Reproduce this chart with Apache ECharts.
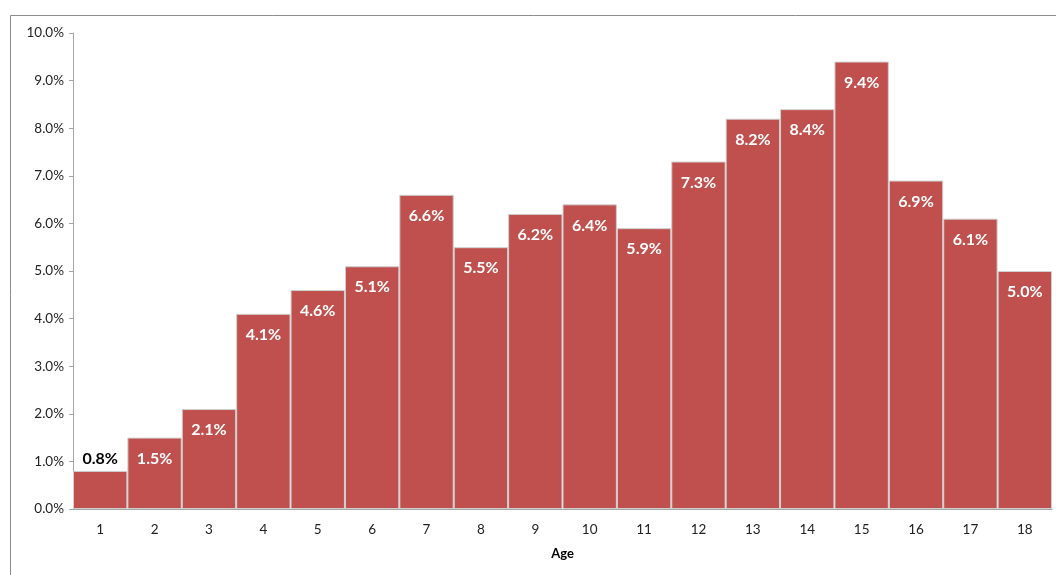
<!DOCTYPE html>
<html>
<head>
<meta charset="utf-8">
<script src="https://cdn.jsdelivr.net/npm/echarts@6/dist/echarts.min.js"></script>
<style>
  html, body { margin: 0; padding: 0; background: #fff; }
  #chart { width: 1056px; height: 575px; }
</style>
</head>
<body>
<div id="chart"></div>
<script>
// Share of respondents by age (percent)
const ages = ['1','2','3','4','5','6','7','8','9','10','11','12','13','14','15','16','17','18'];
const shares = [0.8, 1.5, 2.1, 4.1, 4.6, 5.1, 6.6, 5.5, 6.2, 6.4, 5.9, 7.3, 8.2, 8.4, 9.4, 6.9, 6.1, 5.0];
const yTicks = { min: 0, max: 10, step: 1 };

const FONT = 'Lato, "Open Sans", sans-serif';
const BAR = '#C0504D';

// Short bars get their label above the bar in dark text
const barData = shares.map(v => {
  const item = { value: v };
  if (v < 1) {
    item.label = { position: 'top', color: '#000', distance: 4 };
  }
  return item;
});

const chart = echarts.init(document.getElementById('chart'), null, { renderer: 'canvas' });
chart.setOption({
  animation: false,
  backgroundColor: '#fff',
  graphic: [{
    type: 'rect',
    shape: { x: 10.5, y: 15.5, width: 1100, height: 600 },
    style: { fill: 'none', stroke: '#8c8c8c', lineWidth: 1 },
    silent: true
  }],
  grid: { left: 73, right: 4, top: 33, bottom: 66 },
  xAxis: {
    type: 'category',
    data: ages,
    name: 'Age',
    nameLocation: 'middle',
    nameGap: 38,
    nameTextStyle: { fontFamily: FONT, fontWeight: 'bold', fontSize: 13, color: '#000' },
    axisLine: { show: true, lineStyle: { color: '#a6a6a6', width: 1 } },
    axisTick: { show: false },
    axisLabel: { fontFamily: FONT, fontSize: 13.5, color: '#222', margin: 14 }
  },
  yAxis: {
    type: 'value',
    min: yTicks.min,
    max: yTicks.max,
    interval: yTicks.step,
    splitLine: { show: false },
    axisLine: { show: true, lineStyle: { color: '#a6a6a6', width: 1 } },
    axisTick: { show: true, length: 4, lineStyle: { color: '#a6a6a6' } },
    axisLabel: {
      fontFamily: FONT, fontSize: 13.5, color: '#222', margin: 9,
      formatter: v => v.toFixed(1) + '%'
    }
  },
  series: [{
    type: 'bar',
    data: barData,
    barWidth: '100%',
    barCategoryGap: 0,
    itemStyle: { color: BAR, borderColor: '#d0d0d0', borderWidth: 1 },
    label: {
      show: true,
      position: 'insideTop',
      distance: 13,
      color: '#fff',
      fontFamily: FONT,
      fontWeight: 'bold',
      fontSize: 16,
      formatter: p => p.value.toFixed(1) + '%'
    }
  }]
});
</script>
</body>
</html>
